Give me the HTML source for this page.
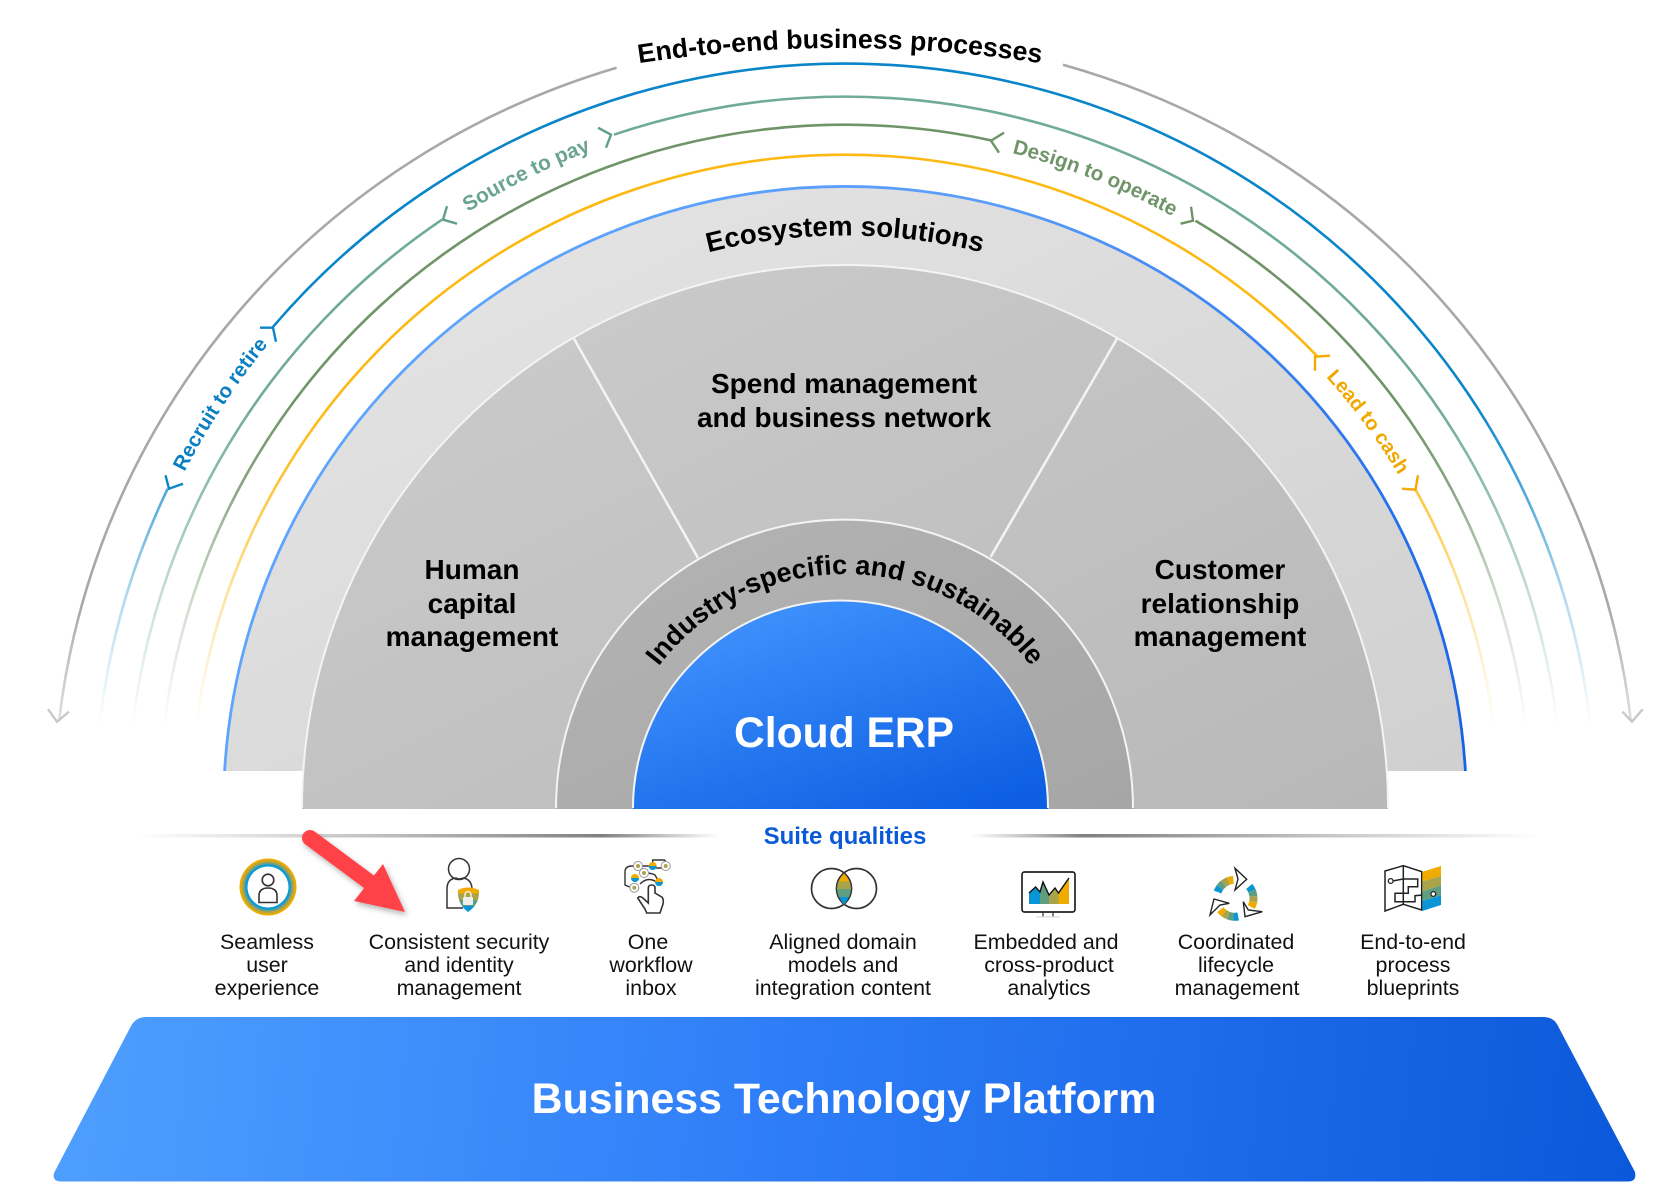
<!DOCTYPE html>
<html lang="en">
<head>
<meta charset="utf-8">
<title>Suite diagram</title>
<style>
html,body{margin:0;padding:0;background:#fff}
svg{display:block}
text{font-family:"Liberation Sans",Arial,sans-serif}
.b{font-weight:700;fill:#000}
.c{font-size:28px;font-weight:700;fill:#000;text-anchor:middle}
.l{font-size:21.4px;fill:#111;text-anchor:middle}
.p{font-weight:700}
</style>
</head>
<body>
<svg width="1663" height="1197" viewBox="0 0 1663 1197" xmlns="http://www.w3.org/2000/svg">
<defs>
<linearGradient id="gLight" x1="0" y1="0" x2="1" y2="1"><stop offset="0" stop-color="#e6e6e6"/><stop offset="1" stop-color="#d0d0d0"/></linearGradient>
<linearGradient id="gMid" x1="0" y1="0" x2="1" y2="1"><stop offset="0" stop-color="#cdcdcd"/><stop offset="1" stop-color="#b8b8b8"/></linearGradient>
<linearGradient id="gRing" x1="0" y1="0" x2="1" y2="1"><stop offset="0" stop-color="#b4b4b4"/><stop offset="1" stop-color="#a6a6a6"/></linearGradient>
<linearGradient id="gCloud" x1="0.15" y1="0" x2="0.85" y2="1"><stop offset="0" stop-color="#4396ff"/><stop offset="1" stop-color="#0d5ee2"/></linearGradient>
<linearGradient id="gPlat" x1="54" y1="1017" x2="1635" y2="1181" gradientUnits="userSpaceOnUse"><stop offset="0" stop-color="#4f9fff"/><stop offset="0.45" stop-color="#2f7ef8"/><stop offset="1" stop-color="#0b58da"/></linearGradient>
<linearGradient id="gEdge" x1="224" y1="186" x2="1466" y2="771" gradientUnits="userSpaceOnUse"><stop offset="0" stop-color="#5ea8ff"/><stop offset="0.5" stop-color="#5a9dfa"/><stop offset="1" stop-color="#1463e6"/></linearGradient>
<linearGradient id="fBlue" gradientUnits="userSpaceOnUse" x1="0" y1="400" x2="0" y2="725"><stop offset="0" stop-color="#0a85c9"/><stop offset=".25" stop-color="#0a85c9" stop-opacity=".75"/><stop offset=".6" stop-color="#0a85c9" stop-opacity=".32"/><stop offset="1" stop-color="#0a85c9" stop-opacity="0"/></linearGradient>
<linearGradient id="fTeal" gradientUnits="userSpaceOnUse" x1="0" y1="400" x2="0" y2="725"><stop offset="0" stop-color="#6fab98"/><stop offset=".25" stop-color="#6fab98" stop-opacity=".8"/><stop offset=".6" stop-color="#6fab98" stop-opacity=".4"/><stop offset="1" stop-color="#6fab98" stop-opacity="0"/></linearGradient>
<linearGradient id="fGreen" gradientUnits="userSpaceOnUse" x1="0" y1="400" x2="0" y2="725"><stop offset="0" stop-color="#6f9468"/><stop offset=".25" stop-color="#6f9468" stop-opacity=".85"/><stop offset=".6" stop-color="#6f9468" stop-opacity=".35"/><stop offset="1" stop-color="#6f9468" stop-opacity="0"/></linearGradient>
<linearGradient id="fYellow" gradientUnits="userSpaceOnUse" x1="0" y1="400" x2="0" y2="725"><stop offset="0" stop-color="#fdb913"/><stop offset=".25" stop-color="#fdb913" stop-opacity=".85"/><stop offset=".6" stop-color="#fdb913" stop-opacity=".4"/><stop offset="1" stop-color="#fdb913" stop-opacity="0"/></linearGradient>
<linearGradient id="fGray" gradientUnits="userSpaceOnUse" x1="0" y1="450" x2="0" y2="730"><stop offset="0" stop-color="#a8a8a8"/><stop offset=".55" stop-color="#a8a8a8"/><stop offset="1" stop-color="#a8a8a8" stop-opacity=".3"/></linearGradient>
<linearGradient id="d1" x1="0" y1="0" x2="1" y2="0"><stop offset="0" stop-color="#888" stop-opacity="0"/><stop offset=".8" stop-color="#808080"/><stop offset="1" stop-color="#888" stop-opacity="0"/></linearGradient>
<linearGradient id="d2" x1="0" y1="0" x2="1" y2="0"><stop offset="0" stop-color="#888" stop-opacity="0"/><stop offset=".2" stop-color="#808080"/><stop offset="1" stop-color="#888" stop-opacity="0"/></linearGradient>
<linearGradient id="bandsR" x1="0" y1="1" x2="0" y2="0">
<stop offset="0" stop-color="#0a96d6"/><stop offset=".25" stop-color="#0a96d6"/><stop offset=".25" stop-color="#5f9e80"/><stop offset=".5" stop-color="#5f9e80"/><stop offset=".5" stop-color="#a9a34a"/><stop offset=".75" stop-color="#a9a34a"/><stop offset=".75" stop-color="#f0ab00"/><stop offset="1" stop-color="#f0ab00"/></linearGradient>
<filter id="sh" x="-20%" y="-20%" width="150%" height="150%"><feDropShadow dx="2" dy="3" stdDeviation="3" flood-color="#000" flood-opacity=".3"/></filter>
<path id="pTitle" d="M620 66.2A1340 1340 0 0 1 1060 66.2"/>
<path id="pEco" d="M645 272.4A560 560 0 0 1 1045 272.4"/>
<path id="pInd" d="M611 808A234 234 0 0 1 1079 808"/>
<path id="pRec" d="M184.5 472A742 737 0 0 1 327.4 280"/>
<path id="pSrc" d="M468 212A709 704 0 0 1 650 131"/>
<path id="pDes" d="M1012 153A678 676 0 0 1 1250 266"/>
<path id="pLead" d="M1326 377A646 646 0 0 1 1441.5 560"/>
</defs>

<!-- process arcs -->
<g fill="none" transform="translate(0,0.7)">
<path d="M59 721A791 774 0 0 1 616.6 67" stroke="url(#fGray)" stroke-width="2.6"/>
<path d="M1063 64A791 774 0 0 1 1631 721" stroke="url(#fGray)" stroke-width="2.6"/>
<path d="M48 708.5L57 721L69 711" stroke="#c9c9c9" stroke-width="2.4"/>
<path d="M1622.5 711L1632 721L1642.7 708.5" stroke="#c9c9c9" stroke-width="2.4"/>

<path d="M272.3 327A750 745 0 0 1 1592 740" stroke="url(#fBlue)" stroke-width="2.6"/>
<path d="M167.7 488A750 745 0 0 0 98 740" stroke="url(#fBlue)" stroke-width="2.6"/>
<path d="M260 327L273 327L276 341M165.5 474.6L169 488L183 483" stroke="#0a85c9" stroke-width="2.4"/>

<path d="M614 134A717 712 0 0 1 1559 740" stroke="url(#fTeal)" stroke-width="2.6"/>
<path d="M442 219A717 712 0 0 0 131 740" stroke="url(#fTeal)" stroke-width="2.6"/>
<path d="M598 127L611 134L606 147M447 205.5L443 219L457 223" stroke="#5f9e8a" stroke-width="2.4"/>

<path d="M163 735A686 684 0 0 1 992.5 140" stroke="url(#fGreen)" stroke-width="2.6"/>
<path d="M1195.5 220A686 684 0 0 1 1527 735" stroke="url(#fGreen)" stroke-width="2.6"/>
<path d="M1004 132L991 140L999 152M1191 206L1193 220L1180.5 223" stroke="#6f9468" stroke-width="2.4"/>

<path d="M195 735A654 654 0 0 1 1317.6 356" stroke="url(#fYellow)" stroke-width="2.6"/>
<path d="M1415 488A654 654 0 0 1 1495 735" stroke="url(#fYellow)" stroke-width="2.6"/>
<path d="M1330 355L1315 356L1315 370M1418 474.5L1415.5 489L1402 488" stroke="#f5a800" stroke-width="2.4"/>
</g>

<!-- main semicircle layers -->
<path d="M224.6 771A621.5 621.5 0 0 1 1465.4 771Z" fill="url(#gLight)"/>
<path d="M224.6 771A621.5 621.5 0 0 1 1465.4 771" fill="none" stroke="url(#gEdge)" stroke-width="2.8"/>
<path d="M302 809V808A543 543 0 0 1 1388 808V809Z" fill="url(#gMid)"/>
<path d="M302 808A543 543 0 0 1 1388 808" fill="none" stroke="#f4f4f4" stroke-width="2"/>
<path d="M573 337L698 558M1117.4 338L990.6 557" stroke="#f4f4f4" stroke-width="2.5" fill="none"/>
<path d="M556 809V808A288.5 288.5 0 0 1 1133 808V809Z" fill="url(#gRing)"/>
<path d="M556 808A288.5 288.5 0 0 1 1133 808" fill="none" stroke="#f4f4f4" stroke-width="2"/>
<path d="M633 809V808A207.5 207.5 0 0 1 1048 808V809Z" fill="url(#gCloud)"/>
<path d="M633 808A207.5 207.5 0 0 1 1048 808" fill="none" stroke="#f4f4f4" stroke-width="2"/>

<!-- curved labels -->
<text class="b" style="font-size:26.7px"><textPath href="#pTitle" startOffset="50%" text-anchor="middle">End-to-end business processes</textPath></text>
<text class="b" style="font-size:27.6px"><textPath href="#pEco" startOffset="50%" text-anchor="middle">Ecosystem solutions</textPath></text>
<text class="b" style="font-size:27.2px"><textPath href="#pInd" startOffset="50%" text-anchor="middle">Industry-specific and sustainable</textPath></text>
<text class="p" fill="#0a7fc2" style="font-size:20.5px"><textPath href="#pRec">Recruit to retire</textPath></text>
<text class="p" fill="#6aa392" style="font-size:20.8px"><textPath href="#pSrc">Source to pay</textPath></text>
<text class="p" fill="#6f9468" style="font-size:20.5px"><textPath href="#pDes">Design to operate</textPath></text>
<text class="p" fill="#f0a800" style="font-size:20px"><textPath href="#pLead">Lead to cash</textPath></text>

<!-- sector labels -->
<text class="c" x="844" y="393">Spend management</text>
<text class="c" x="844" y="427">and business network</text>
<text class="c" x="472" y="579">Human</text>
<text class="c" x="472" y="613">capital</text>
<text class="c" x="472" y="646">management</text>
<text class="c" x="1220" y="579">Customer</text>
<text class="c" x="1220" y="613">relationship</text>
<text class="c" x="1220" y="646">management</text>
<text x="844" y="747" text-anchor="middle" font-size="42.6" font-weight="700" fill="#fff">Cloud ERP</text>

<!-- suite qualities -->
<rect x="135" y="834" width="585" height="3.5" fill="url(#d1)"/>
<rect x="970" y="834" width="570" height="3.5" fill="url(#d2)"/>
<text x="845" y="844" text-anchor="middle" font-size="24" font-weight="700" fill="#0a5ad8">Suite qualities</text>

<!-- icon: seamless -->
<circle cx="268" cy="887" r="28.5" fill="#f0ab00"/>
<circle cx="268" cy="887" r="26.5" fill="#b5a53c"/>
<circle cx="268" cy="887" r="24.5" fill="#6d9f86"/>
<circle cx="268" cy="887" r="22.8" fill="#0a9bd6"/>
<circle cx="268" cy="887" r="20.5" fill="#fff"/>
<circle cx="268" cy="880" r="5.8" fill="none" stroke="#333" stroke-width="1.6"/>
<path d="M259 902.5V896Q259 888 268 888Q277 888 277 896V902.5Z" fill="none" stroke="#333" stroke-width="1.6"/>

<!-- icon: security -->
<circle cx="459" cy="869" r="10.5" fill="none" stroke="#333" stroke-width="1.5"/>
<path d="M463 908H447V889Q447 879 456 878Q459 880 463 878Q471 879 472 888" fill="none" stroke="#333" stroke-width="1.5"/>
<path d="M458 890Q468 885 479 890Q480 904 468 912Q457 904 458 890Z" fill="url(#bandsR)"/>
<rect x="463" y="897" width="10" height="8" rx="1" fill="#eee"/>
<path d="M465 897V894.500A3 3 0 0 1 471 894.500V897" fill="none" stroke="#eee" stroke-width="1.5"/>

<!-- icon: workflow -->
<g fill="none" stroke="#333" stroke-width="1.4">
<path d="M638 866H632Q625 866 625 872V885L632 888"/>
<path d="M638 866L652.7 866M652.7 866V860H664Q666 860 666 866"/>
<path d="M652.7 866Q654 868 657 868H662M644 873Q652 873 655 875L659 882"/>
<path d="M640 884Q649 875 659 884"/>
<path d="M637.7 898Q640 895 644 899L648.3 903V888Q648.300 885 651.7 885Q655 885 655 888V893L661.7 897Q664 899 663 904L660 913H646.7L645 909Z" fill="#fff" stroke-width="1.6"/>
</g>
<g>
<circle cx="638" cy="866" r="4.5" fill="#fff" stroke="#999"/><circle cx="638" cy="866" r="2" fill="#a9a34a"/>
<circle cx="652.7" cy="866" r="4" fill="#f0ab00"/><path d="M648.7 866A4 4 0 0 0 656.7 866Z" fill="#0a96d6"/>
<circle cx="665.7" cy="866" r="4.5" fill="#fff" stroke="#999"/><circle cx="665.7" cy="866" r="2" fill="#a9a34a"/>
<circle cx="644" cy="873" r="4.5" fill="#fff" stroke="#999"/><circle cx="644" cy="873" r="2" fill="#a9a34a"/>
<circle cx="635" cy="878" r="4" fill="#f0ab00"/><path d="M631 878A4 4 0 0 0 639 878Z" fill="#0a96d6"/>
<circle cx="659" cy="882" r="4" fill="#f0ab00"/><path d="M655 882A4 4 0 0 0 663 882Z" fill="#0a96d6"/>
<circle cx="634.3" cy="887.7" r="4.5" fill="#fff" stroke="#999"/><circle cx="634.3" cy="887.7" r="2" fill="#a9a34a"/>
</g>

<!-- icon: venn -->
<circle cx="831.5" cy="888.5" r="20" fill="none" stroke="#333" stroke-width="1.7"/>
<circle cx="856.5" cy="888.5" r="20" fill="none" stroke="#333" stroke-width="1.7"/>
<path d="M844 873.5Q851 880.5 851 888.5Q851 896.500 844 904.500Q837 896.500 837 888.5Q837 880.5 844 873.5Z" fill="url(#bandsR)"/>

<!-- icon: chart -->
<rect x="1022" y="872" width="53" height="40" rx="2.5" fill="#fff" stroke="#222" stroke-width="1.7"/>
<path d="M1043 912V917M1053 912V917" stroke="#333" stroke-width="1.2"/>
<path d="M1036 917H1060" stroke="#ddd" stroke-width="1.2"/>
<path d="M1029 893L1035.6 887L1040 892V904H1029Z" fill="#0a96d6"/>
<path d="M1040 892L1043 882L1049 895V904H1040Z" fill="#5f9e80"/>
<path d="M1049 895L1055 888L1058.5 893V904H1049Z" fill="#a9a34a"/>
<path d="M1058.5 893L1069 878V904H1058.5Z" fill="#f0ab00"/>
<path d="M1029 893L1035.6 887L1040 892L1043 882L1049 895L1055 888L1058.5 893L1069 878" fill="none" stroke="#111" stroke-width="1.4"/>

<!-- icon: lifecycle -->
<g fill="none" stroke-width="8">
<path d="M1217.6 892A18.5 18.5 0 0 1 1220 887.4" stroke="#0a96d6"/>
<path d="M1220 887.4A18.5 18.5 0 0 1 1223.6 883.7" stroke="#5f9e80"/>
<path d="M1223.6 883.7A18.5 18.5 0 0 1 1228.4 881" stroke="#a9a34a"/>
<path d="M1228.4 881A18.5 18.5 0 0 1 1233.4 879.9" stroke="#f0ab00"/>
<path d="M1249.2 886.4A18.5 18.5 0 0 1 1252 891" stroke="#0a96d6"/>
<path d="M1252 891A18.5 18.5 0 0 1 1253.4 896.4" stroke="#5f9e80"/>
<path d="M1253.4 896.4A18.5 18.5 0 0 1 1253.2 901.8" stroke="#a9a34a"/>
<path d="M1253.2 901.8A18.5 18.5 0 0 1 1251.3 907" stroke="#f0ab00"/>
<path d="M1220.4 909.7A18.5 18.5 0 0 0 1224.1 913.3" stroke="#f0ab00"/>
<path d="M1224.1 913.3A18.5 18.5 0 0 0 1228.4 915.6" stroke="#a9a34a"/>
<path d="M1228.4 915.6A18.5 18.5 0 0 0 1233.4 916.7" stroke="#5f9e80"/>
<path d="M1233.4 916.7A18.5 18.5 0 0 0 1238.2 916.5" stroke="#0a96d6"/>
</g>
<g fill="#fff" fill-opacity="0" stroke="#222" stroke-width="1.4">
<path d="M1235 868.3L1246.7 879.3L1235 890L1238 879Z"/>
<path d="M1214 899L1229.3 903.3L1220 905L1210 915Z"/>
<path d="M1243.3 901.7L1248.3 910L1262.3 911.7L1245 916.7Z"/>
</g>

<!-- icon: blueprint -->
<g fill="none" stroke="#222" stroke-width="1.5">
<path d="M1385 871L1403.3 865.7L1421.7 871.7V910L1403.3 904.3L1385 911Z"/>
<path d="M1403.3 865.7V904.3"/>
<path d="M1392.5 881L1403.3 879H1417.7V886.7H1408.3V893.3H1395V901.7H1415V895.7L1431 894.2"/>
</g>
<circle cx="1390.7" cy="881" r="2.4" fill="#fff" stroke="#222" stroke-width="1.3"/>
<path d="M1422.3 871.7L1441 866V875.8L1422.3 881.5Z" fill="#f0ab00"/>
<path d="M1422.3 881.5L1441 875.8V885.5L1422.3 891.3Z" fill="#a9a34a"/>
<path d="M1422.3 891.3L1441 885.5V895.3L1422.3 901.1Z" fill="#5f9e80"/>
<path d="M1422.3 901.1L1441 895.3V905L1422.3 911Z" fill="#0a96d6"/>
<circle cx="1433.3" cy="894" r="2.4" fill="#fff" stroke="#222" stroke-width="1.3"/>

<!-- icon labels -->
<g>
<text class="l" x="267" y="949">Seamless</text><text class="l" x="267" y="972">user</text><text class="l" x="267" y="995">experience</text>
<text class="l" x="459" y="949">Consistent security</text><text class="l" x="459" y="972">and identity</text><text class="l" x="459" y="995">management</text>
<text class="l" x="648" y="949">One</text><text class="l" x="651" y="972">workflow</text><text class="l" x="651" y="995">inbox</text>
<text class="l" x="843" y="949">Aligned domain</text><text class="l" x="843" y="972">models and</text><text class="l" x="843" y="995">integration content</text>
<text class="l" x="1046" y="949">Embedded and</text><text class="l" x="1049" y="972">cross-product</text><text class="l" x="1049" y="995">analytics</text>
<text class="l" x="1236" y="949">Coordinated</text><text class="l" x="1236" y="972">lifecycle</text><text class="l" x="1237" y="995">management</text>
<text class="l" x="1413" y="949">End-to-end</text><text class="l" x="1413" y="972">process</text><text class="l" x="1413" y="995">blueprints</text>
</g>

<!-- red arrow -->
<g filter="url(#sh)">
<path d="M310 838L372 884" stroke="#ff4347" stroke-width="16" stroke-linecap="round" fill="none"/>
<path d="M383 864L405 912L354 901Z" fill="#ff4347"/>
</g>

<!-- platform -->
<path d="M146 1017L1543 1017Q1554 1017 1558 1026L1635 1172Q1637 1181.5 1628 1181.5L61 1181.5Q52 1181.5 54 1173L131 1026Q136 1017 146 1017Z" fill="url(#gPlat)"/>
<text x="844" y="1113" text-anchor="middle" font-size="42.8" font-weight="700" fill="#fff">Business Technology Platform</text>
</svg>
</body>
</html>
